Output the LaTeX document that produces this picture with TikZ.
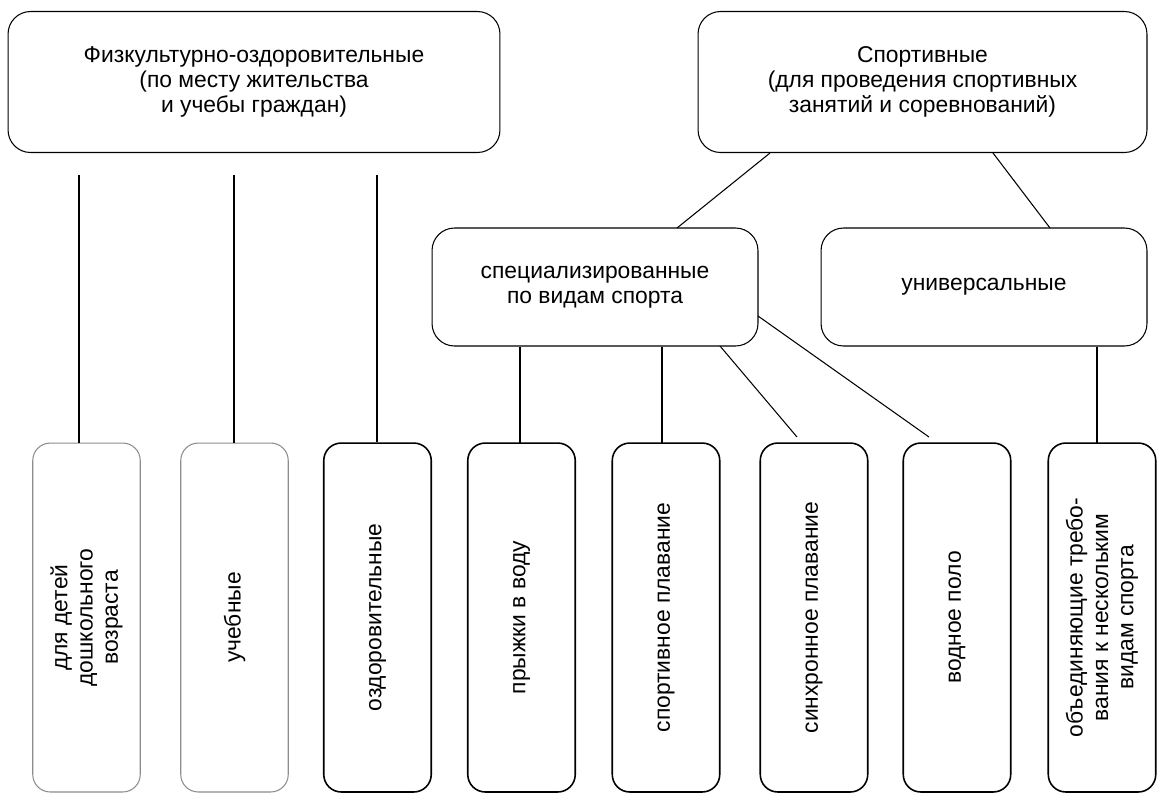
\documentclass[tikz,border=0pt]{standalone}
\usepackage{fontspec}
\setmainfont{Liberation Sans}
\usetikzlibrary{positioning}
\tikzset{
  top box/.style={draw, rounded corners=0.45cm, align=center, line width=0.6pt},
  low box/.style={draw, rounded corners=0.35cm, minimum width=2.15cm, minimum height=6.98cm, line width=0.9pt},
  grey box/.style={low box, draw=black!45, line width=0.6pt},
  vtext/.style={rotate=90, align=center},
  link/.style={line width=0.6pt}
}
\begin{document}
\begin{tikzpicture}[x=0.02cm, y=-0.02cm, font=\fontsize{13}{14.4}\selectfont]
\useasboundingbox (0,0) rectangle (1162,806);
% top level
\node[top box, minimum width=9.84cm, minimum height=2.82cm] (fiz) at (254,82)
  {Физкультурно-оздоровительные\\(по месту жительства\\и учебы граждан)};
\node[top box, minimum width=8.98cm, minimum height=2.82cm] (sport) at (922.5,82)
  {Спортивные\\(для проведения спортивных\\занятий и соревнований)};
% second level
\node[top box, minimum width=6.52cm, minimum height=2.36cm] (spec) at (595,287)
  {специализированные\\по видам спорта};
\node[top box, minimum width=6.52cm, minimum height=2.36cm] (univ) at (984,287)
  {универсальные};
% bottom level
\node[grey box] (d1) at (86.5,617.5) {};
\node[grey box] (d2) at (234.5,617.5) {};
\node[low box] (d3) at (377.5,617.5) {};
\node[low box] (d4) at (521.5,617.5) {};
\node[low box] (d5) at (666,617.5) {};
\node[low box] (d6) at (814,617.5) {};
\node[low box] (d7) at (957,617.5) {};
\node[low box] (d8) at (1102,617.5) {};
\node[vtext] (t1) at (d1) {для детей\\дошкольного\\возраста};
\node[vtext] (t2) at (d2) {учебные};
\node[vtext] (t3) at (d3) {оздоровительные};
\node[vtext] (t4) at (d4) {прыжки в воду};
\node[vtext] (t5) at (d5) {спортивное плавание};
\node[vtext] (t6) at (d6) {синхронное плавание};
\node[vtext] (t7) at (d7) {водное поло};
\node[vtext] (t8) at (d8) {объединяющие требо-\\вания к нескольким\\видам спорта};
% free line ends
\coordinate (f1) at (79,175);
\coordinate (f2) at (234,175);
\coordinate (f3) at (377,175);
\coordinate (s1) at (770,153);
\coordinate (s2) at (993,153);
\coordinate (p1) at (677,228);
\coordinate (p2) at (1050,228);
\coordinate (q1) at (720,346);
\coordinate (q2) at (758,316);
\coordinate (r1) at (797,437);
\coordinate (r2) at (929,437);
% connectors
\draw[link] (f1) -- (f1 |- d1.north);
\draw[link] (f2) -- (f2 |- d2.north);
\draw[link] (f3) -- (f3 |- d3.north);
\draw[link] (s1) -- (p1);
\draw[link] (s2) -- (p2);
\draw[link] (spec.south -| d4.center) ++(-1.5,0) -- +(0,97);
\draw[link] (spec.south -| d5.center) ++(-4,0) -- +(0,97);
\draw[link] (q1) -- (r1);
\draw[link] (q2) -- (r2);
\draw[link] (univ.south -| d8.center) ++(-5,0) -- +(0,97);
\end{tikzpicture}
\end{document}
